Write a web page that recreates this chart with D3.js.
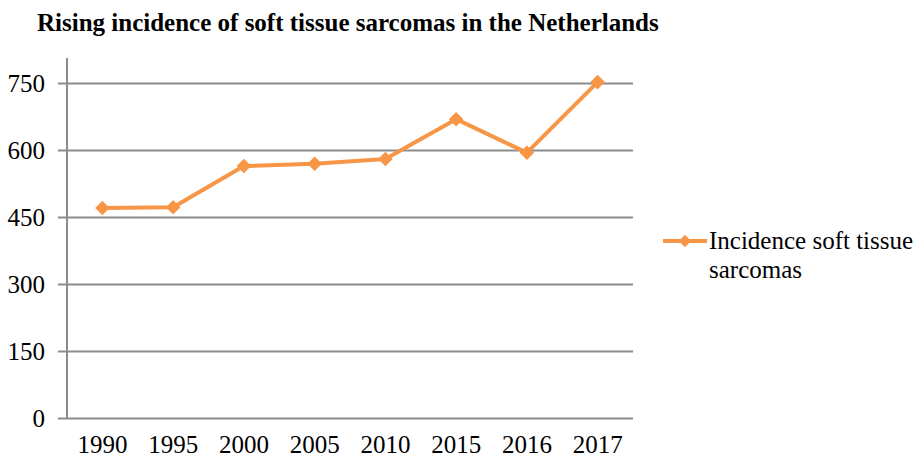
<!DOCTYPE html>
<html>
<head>
<meta charset="utf-8">
<script src="https://cdn.jsdelivr.net/npm/d3@7"></script>
<style>
  body { margin: 0; background: #fff; }
  svg { display: block; }
  svg text { font-family: "Liberation Serif", "Times New Roman", serif; }
</style>
</head>
<body>
<svg id="chart" width="919" height="457"></svg>
<script>
const years = ["1990", "1995", "2000", "2005", "2010", "2015", "2016", "2017"];
const incidence = [470, 472, 564, 569, 580, 669, 594, 752];
const yTicks = [0, 150, 300, 450, 600, 750];
const seriesName = ["Incidence soft tissue", "sarcomas"];

const width = 919, height = 457;
const margin = { top: 83, right: 286, bottom: 39, left: 67 };
const orange = "#f79646";
const grid = "#8c8c8c";
const fontSize = 25;
const serif = "Liberation Serif, Times New Roman, serif";

const svg = d3.select("#chart");

const x = d3.scaleBand()
  .domain(years)
  .range([margin.left, width - margin.right]);

const y = d3.scaleLinear()
  .domain([0, 750])
  .range([height - margin.bottom, margin.top]);

// title
svg.append("text")
  .attr("x", 37)
  .attr("y", 31)
  .attr("font-size", fontSize)
  .attr("font-family", serif)
  .attr("font-weight", "bold")
  .attr("fill", "#000")
  .text("Rising incidence of soft tissue sarcomas in the Netherlands");

// y axis with gridlines
const yAxis = svg.append("g")
  .attr("transform", `translate(${margin.left},0)`)
  .call(d3.axisLeft(y)
    .tickValues(yTicks)
    .tickSize(9)
    .tickPadding(13))
  .call(g => g.select(".domain").remove());

yAxis.selectAll(".tick line")
  .attr("stroke", grid)
  .attr("stroke-width", 2)
  .attr("x2", -9)
  .clone()
  .attr("x1", 0)
  .attr("x2", width - margin.right - margin.left);

yAxis.selectAll(".tick text")
  .attr("font-size", fontSize)
  .attr("font-family", serif)
  .attr("fill", "#000");

// vertical axis line
svg.append("line")
  .attr("x1", margin.left).attr("x2", margin.left)
  .attr("y1", 58).attr("y2", y(0))
  .attr("stroke", grid)
  .attr("stroke-width", 2);

// x axis labels
const xAxis = svg.append("g")
  .attr("transform", `translate(0,${y(0)})`)
  .call(d3.axisBottom(x).tickSize(0).tickPadding(17))
  .call(g => g.select(".domain").remove());

xAxis.selectAll(".tick text")
  .attr("font-size", fontSize)
  .attr("font-family", serif)
  .attr("fill", "#000");

// line
const cx = d => x(d) + x.bandwidth() / 2;
const line = d3.line()
  .x((d, i) => cx(years[i]))
  .y(d => y(d));

svg.append("path")
  .datum(incidence)
  .attr("fill", "none")
  .attr("stroke", orange)
  .attr("stroke-width", 4)
  .attr("stroke-linejoin", "round")
  .attr("d", line);

const diamond = d3.symbol().type(d3.symbolDiamond2).size(135);

svg.append("g")
  .selectAll("path")
  .data(incidence)
  .join("path")
  .attr("transform", (d, i) => `translate(${cx(years[i])},${y(d)})`)
  .attr("fill", orange)
  .attr("d", diamond);

// legend
const legend = svg.append("g").attr("transform", "translate(663,241)");
legend.append("line")
  .attr("x1", 0).attr("x2", 44)
  .attr("stroke", orange)
  .attr("stroke-width", 4);
legend.append("path")
  .attr("transform", "translate(22,0)")
  .attr("fill", orange)
  .attr("d", d3.symbol().type(d3.symbolDiamond2).size(100));
legend.append("text")
  .attr("y", 8)
  .attr("font-size", fontSize)
  .attr("font-family", serif)
  .attr("fill", "#000")
  .selectAll("tspan")
  .data(seriesName)
  .join("tspan")
  .attr("x", 46)
  .attr("dy", (d, i) => i ? 29 : 0)
  .text(d => d);
</script>
</body>
</html>
